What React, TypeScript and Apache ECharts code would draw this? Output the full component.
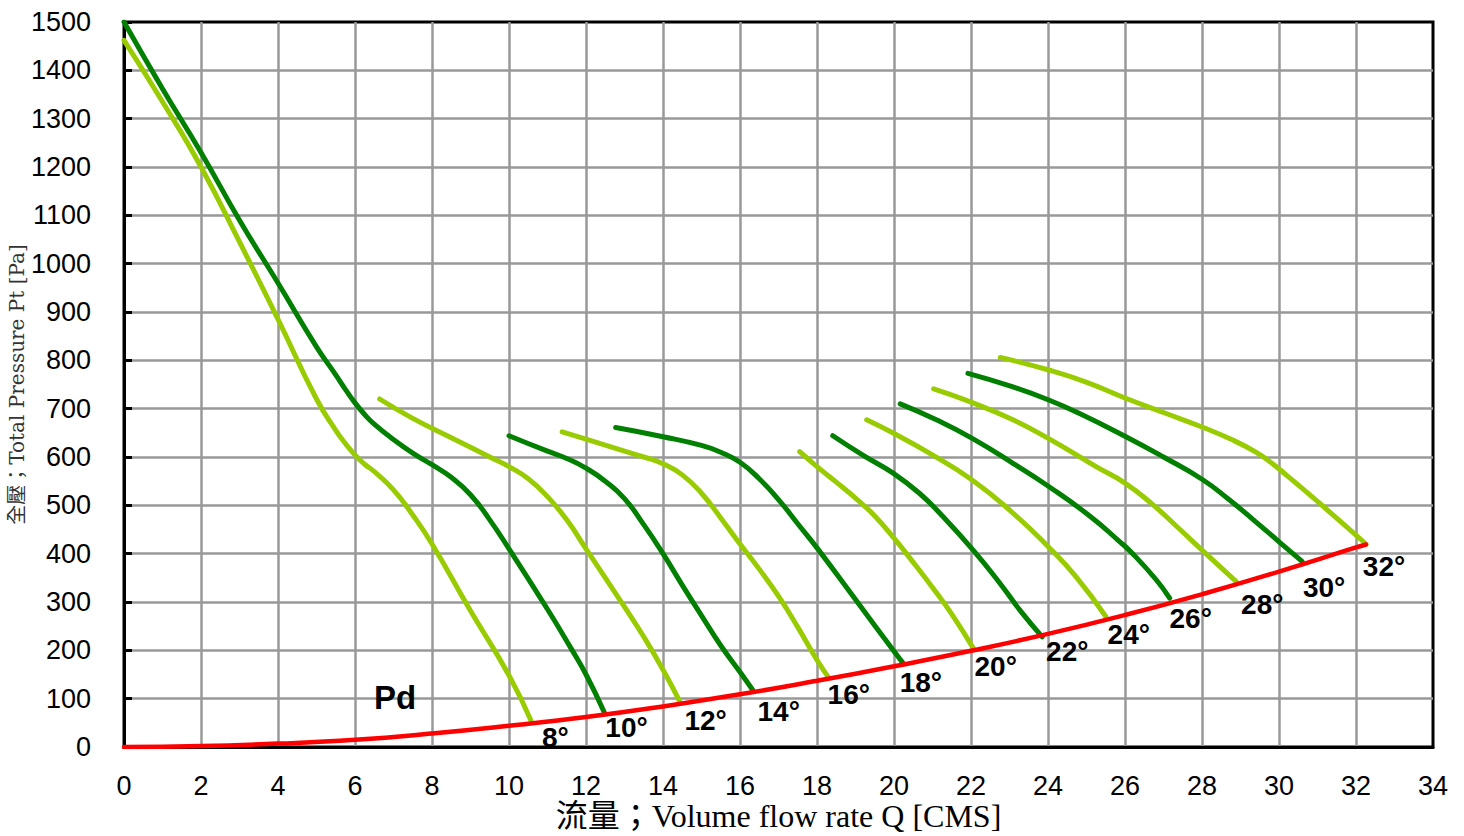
import React, { useEffect, useRef } from "react";
import * as echarts from "echarts";

// Q [CMS] -> Pt [Pa] curves, one per blade angle
const curve8: number[][] = [[0,1462],[1,1335],[2,1200],[3,1045],[4,885],[5,720],[5.5,655],[5.75,628],[6,604],[6.25,585],[6.5,570],[7,532],[7.5,480],[8,420],[9,282],[10,148],[10.58,53]];
const curve10: number[][] = [[0,1500],[1,1362],[2,1230],[3,1090],[4,960],[5,828],[5.5,770],[5.75,740],[6,712],[6.25,688],[6.5,668],[7,636],[7.5,608],[8,584],[8.5,558],[9,522],[9.5,470],[10,410],[11,285],[11.62,203],[12,150],[12.48,71]];
const curve12: number[][] = [[6.64,720],[7.5,680],[8.5,640],[9.5,600],[10,580],[10.5,555],[11,518],[11.5,470],[12,410],[13,290],[13.5,228],[14,160],[14.43,95]];
const curve14: number[][] = [[10,644],[11,612],[11.5,597],[12,577],[12.5,550],[13,514],[13.5,460],[14,400],[14.5,335],[15,272],[15.5,210],[16,155],[16.33,118]];
const curve16: number[][] = [[11.38,652],[12,637],[13,612],[13.5,600],[14,586],[14.5,563],[15,525],[15.5,474],[16,420],[16.5,368],[17,312],[17.5,248],[18,180],[18.28,146]];
const curve18: number[][] = [[12.77,661],[14,642],[15,624],[15.5,610],[16,589],[16.5,555],[17,512],[17.5,462],[18,412],[19,305],[20,198],[20.23,174]];
const curve20: number[][] = [[17.55,611],[18,580],[18.5,548],[19,515],[19.5,478],[20,432],[20.5,382],[21,330],[21.5,275],[22.07,203]];
const curve22: number[][] = [[18.41,644],[19.19,604],[19.99,566],[20.66,525],[21.27,477],[22.05,408],[22.74,340],[23.3,280],[23.85,228]];
const curve24: number[][] = [[19.29,677],[19.99,649],[20.92,608],[22.02,553],[23.09,484],[24.0,415],[24.72,353],[25.5,270]];
const curve26: number[][] = [[20.16,710],[21.1,677],[22.02,639],[23.09,587],[24.02,539],[25.1,477],[25.86,425],[26.2,400],[26.81,346],[27.16,308]];
const curve28: number[][] = [[21.03,741],[22.02,713],[23.09,677],[24.02,638],[25.25,580],[26,546],[26.7,503],[27.4,452],[28.1,400],[28.89,342]];
const curve30: number[][] = [[21.92,773],[23.09,745],[24.02,718],[24.82,690],[26,643],[27,600],[28,554],[28.7,512],[29.32,471],[30.04,422],[30.6,384]];
const curve32: number[][] = [[22.76,806],[24.02,780],[24.99,755],[26,722],[27.07,690],[28,662],[28.8,635],[29.4,610],[29.8,588],[30.2,562],[31,508],[32.26,420]];

const angles = [8, 10, 12, 14, 16, 18, 20, 22, 24, 26, 28, 30, 32];
const curves = [curve8, curve10, curve12, curve14, curve16, curve18, curve20, curve22, curve24, curve26, curve28, curve30, curve32];

// dynamic pressure Pd
const pdQ = [0, 2, 4, 6, 8, 10, 12, 14, 16, 18, 20, 22, 24, 26, 28, 30, 32, 32.26];
const pdP = [0, 2, 7, 15, 28, 44, 62, 84, 109, 137, 167, 199, 234, 273, 316, 363, 413, 419];

const xTicks = { min: 0, max: 34, interval: 2 };
const yTicks = { min: 0, max: 1500, interval: 100 };

const DARK = "#007f00";
const LIGHT = "#99cc00";
const labelOffsets = [[24,16],[22,15],[26,19],[26,22],[21,18],[18,20],[22,18],[25,15],[23,18],[21,20],[26,23],[22,26],[18,22]];

export default function App() {
  const ref = useRef<HTMLDivElement>(null);
  useEffect(() => {
    if (!ref.current) return;
    const chart = echarts.init(ref.current, undefined, { renderer: "svg" });
    const lineSeries = curves.map((c, i) => ({
      type: "line",
      name: angles[i] + "°",
      data: c,
      showSymbol: false,
      smooth: 0.5,
      lineStyle: { width: 5, color: i % 2 === 0 ? LIGHT : DARK, cap: "round" },
      z: 3,
    }));
    const option = {
      animation: false,
      backgroundColor: "#fff",
      grid: { left: 124, right: 31, top: 22, bottom: 89, show: true, borderColor: "#000", borderWidth: 3, outerBoundsMode: "none", containLabel: false },
      xAxis: {
        type: "value",
        ...xTicks,
        name: "流量；Volume flow rate Q [CMS]",
        nameLocation: "middle",
        nameGap: 53,
        nameMoveOverlap: false,
        nameTextStyle: { fontSize: 32, color: "#000", fontFamily: "'Liberation Serif', 'Noto Sans CJK TC'" },
        axisLine: { show: true, lineStyle: { color: "#000", width: 3 } },
        axisTick: { show: false },
        axisLabel: { fontSize: 27, color: "#000", margin: 25, fontFamily: "'Liberation Sans', Arial", formatter: (v: number) => String(v) },
        splitLine: { show: true, showMinLine: false, showMaxLine: false, lineStyle: { color: "#999", width: 2.5 } },
      },
      yAxis: {
        type: "value",
        ...yTicks,
        name: "全壓；Total Pressure Pt [Pa]",
        nameLocation: "middle",
        nameGap: 97,
        nameMoveOverlap: false,
        nameTextStyle: { fontSize: 20, color: "#333", fontFamily: "'DejaVu Serif', 'Noto Sans CJK TC'" },
        axisLine: { show: true, lineStyle: { color: "#000", width: 3 } },
        axisTick: { show: true, inside: true, length: 8, lineStyle: { color: "#000", width: 3 } },
        axisLabel: { fontSize: 27, color: "#000", margin: 33, fontFamily: "'Liberation Sans', Arial", formatter: (v: number) => String(v) },
        splitLine: { show: true, showMinLine: false, showMaxLine: false, lineStyle: { color: "#999", width: 2.5 } },
      },
      series: [
        ...lineSeries,
        {
          type: "line",
          name: "Pd",
          data: pdQ.map((q, i) => [q, pdP[i]]),
          showSymbol: false,
          smooth: 0.5,
          lineStyle: { width: 4.5, color: "#ff0000", cap: "round" },
          z: 4,
        },
        {
          type: "scatter",
          name: "angles",
          symbolSize: 1,
          itemStyle: { color: "rgba(0,0,0,0)" },
          z: 5,
          silent: true,
          data: curves.map((c, i) => ({
            value: c[c.length - 1],
            label: { offset: labelOffsets[i] },
          })),
          label: {
            show: true,
            position: "inside",
            formatter: (p: any) => angles[p.dataIndex] + "°",
            fontSize: 28,
            fontWeight: "bold",
            color: "#000",
            opacity: 1,
            textBorderWidth: 0,
            fontFamily: "'Liberation Sans', Arial",
            align: "center",
            verticalAlign: "middle",
          },
        },
      ],
      graphic: [
        {
          type: "text",
          x: 395,
          y: 697,
          z: 10,
          style: {
            text: "Pd",
            font: "bold 33px 'Liberation Sans', Arial",
            fill: "#000",
            textAlign: "center",
            textVerticalAlign: "middle",
          },
        },
      ],
    };
    chart.setOption(option as any);
    return () => chart.dispose();
  }, []);
  return <div ref={ref} style={{ position: "absolute", left: 0, top: 0, width: 1464, height: 836 }} />;
}
